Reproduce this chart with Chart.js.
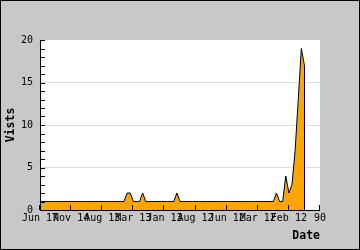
<!DOCTYPE html>
<html>
<head>
<meta charset="utf-8">
<script src="https://cdn.jsdelivr.net/npm/chart.js@4"></script>
<style>
  html, body { margin: 0; padding: 0; background: #c8c8c8; }
  canvas { display: block; }
</style>
</head>
<body>
<canvas id="chartVisits" width="360" height="250"></canvas>
<script>
// ===== VISITS — area chart =====

const C = {
  frame:  '#c8c8c8',
  plot:   '#ffffff',
  orange: '#ffa500',
  line:   '#000000',
  grid:   '#dcdcdc',
  text:   '#000000'
};

// tick labels every 10 points (last one has no date, shows index)
const xTickLabels = ['Jun 17', 'Nov 14', 'Aug 13', 'Mar 13', 'Jan 13', 'Aug 12', 'Jun 12', 'Mar 12', 'Feb 12', '90'];
const xMax = 90;
const yMax = 20;

// one value per point, index 0..85
const visits = [
  1, 1, 1, 1, 1, 1, 1, 1, 1, 1,
  1, 1, 1, 1, 1, 1, 1, 1, 1, 1,
  1, 1, 1, 1, 1, 1, 1, 1, 2, 2,
  1, 1, 1, 2, 1, 1, 1, 1, 1, 1,
  1, 1, 1, 1, 2, 1, 1, 1, 1, 1,
  1, 1, 1, 1, 1, 1, 1, 1, 1, 1,
  1, 1, 1, 1, 1, 1, 1, 1, 1, 1,
  1, 1, 1, 1, 1, 1, 2, 1, 1, 4,
  2, 3, 7, 13, 19, 17
];

const mono = "'DejaVu Sans Mono', monospace";

// backgrounds, frame, axis lines and inward ticks
const pluginFrame = {
  id: 'frame',
  beforeDraw(chart) {
    const { ctx, width, height, chartArea: { left, top, right, bottom } } = chart;
    ctx.save();
    ctx.fillStyle = C.frame;
    ctx.fillRect(0, 0, width, height);
    ctx.strokeStyle = '#000';
    ctx.lineWidth = 1;
    ctx.strokeRect(0.5, 0.5, width - 1, height - 1);
    ctx.fillStyle = C.plot;
    ctx.fillRect(left, top, right - left, bottom - top);
    ctx.restore();
  },
  afterDatasetsDraw(chart) {
    const { ctx, scales: { x, y }, chartArea: { left, top, right, bottom } } = chart;
    ctx.save();
    ctx.strokeStyle = '#000';
    ctx.lineWidth = 1;
    ctx.beginPath();
    // closing edge of the area
    const lx = Math.round(x.getPixelForValue(visits.length - 1)) + 0.5;
    ctx.moveTo(lx, y.getPixelForValue(visits[visits.length - 1]));
    ctx.lineTo(lx, bottom);
    // axes
    ctx.moveTo(left + 0.5, top);
    ctx.lineTo(left + 0.5, bottom + 0.5);
    ctx.lineTo(right, bottom + 0.5);
    // y ticks, one per unit
    for (let v = 0; v <= yMax; v++) {
      const py = Math.round(y.getPixelForValue(v)) + 0.5;
      ctx.moveTo(left, py);
      ctx.lineTo(left + 5, py);
    }
    // x ticks
    for (let v = 0; v <= xMax; v += 10) {
      const px = Math.round(x.getPixelForValue(v)) - 0.5;
      ctx.moveTo(px, bottom);
      ctx.lineTo(px, bottom - 5);
    }
    ctx.stroke();
    ctx.restore();
  }
};

(function() {
  const el = document.getElementById('chartVisits');
  if (!el) return;
  new Chart(el, {
    type: 'line',
    data: {
      datasets: [{
        label: 'Vists',
        data: visits.map((v, i) => ({ x: i, y: v })),
        borderColor: C.line,
        borderWidth: 1,
        backgroundColor: C.orange,
        fill: 'origin',
        pointRadius: 0,
        tension: 0
      }]
    },
    options: {
      responsive: false,
      animation: false,
      layout: { padding: { top: 40, right: 40, left: 0, bottom: 0 } },
      plugins: {
        legend: { display: false },
        tooltip: { enabled: false }
      },
      scales: {
        x: {
          type: 'linear',
          min: 0, max: xMax,
          afterFit: s => { s.height = 40; },
          grid: { display: false, drawTicks: false },
          border: { display: false },
          ticks: {
            stepSize: 10,
            autoSkip: false,
            maxRotation: 0, minRotation: 0,
            padding: 2,
            color: C.text,
            font: { size: 10, family: mono },
            callback: v => xTickLabels[v / 10]
          },
          title: {
            display: true, text: 'Date', align: 'end',
            color: C.text, padding: 7,
            font: { size: 11.5, weight: 'bold', family: mono }
          }
        },
        y: {
          min: 0, max: yMax,
          afterFit: s => { s.width = 40; },
          grid: {
            drawTicks: false,
            color: ctx => (ctx.tick.value > 0 && ctx.tick.value < yMax) ? C.grid : 'rgba(0,0,0,0)'
          },
          border: { display: false },
          ticks: {
            stepSize: 5,
            padding: 7,
            color: C.text,
            font: { size: 10, family: mono }
          },
          title: {
            display: true, text: 'Vists',
            color: C.text, padding: 4,
            font: { size: 11.5, weight: 'bold', family: mono }
          }
        }
      }
    },
    plugins: [pluginFrame]
  });
})();
</script>
</body>
</html>
